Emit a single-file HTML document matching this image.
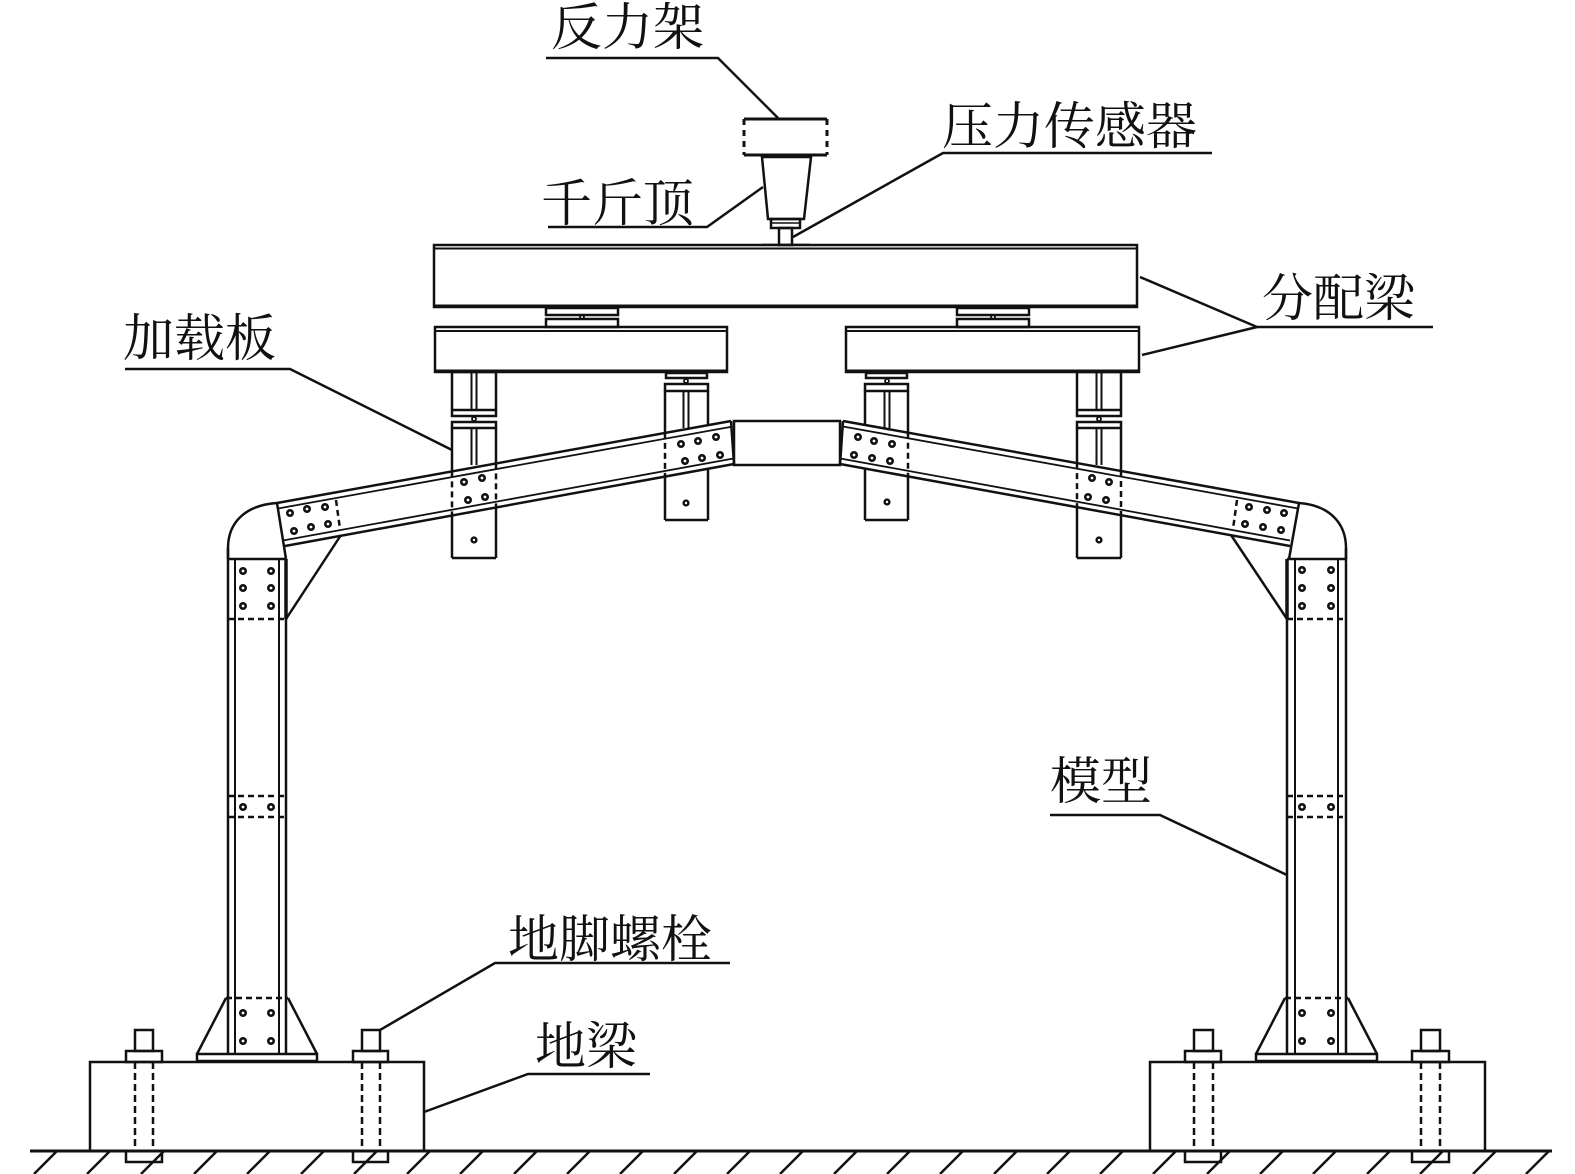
<!DOCTYPE html>
<html>
<head>
<meta charset="utf-8">
<style>
html,body{margin:0;padding:0;background:#fff;}
svg{display:block;}
text{font-family:"Liberation Serif","Noto Serif CJK SC","Noto Sans CJK SC",serif;font-size:51px;fill:#111;}
</style>
</head>
<body>
<svg width="1575" height="1174" viewBox="0 0 1575 1174" xmlns="http://www.w3.org/2000/svg">
<rect width="1575" height="1174" fill="#fff"/>

<!-- ===== Labels ===== -->
<text x="551" y="45">反力架</text>
<text x="541" y="221">千斤顶</text>
<text x="942" y="144">压力传感器</text>
<text x="1262" y="316">分配梁</text>
<text x="123" y="356">加载板</text>
<text x="1050" y="799">模型</text>
<text x="508" y="957">地脚螺栓</text>
<text x="535" y="1064">地梁</text>

<g fill="none" stroke="#111" stroke-width="2.5" stroke-linecap="butt" stroke-linejoin="miter">

<!-- leader lines -->
<polyline points="546,58 718,58 778,118"/>
<polyline points="548,227 707,227 763,187"/>
<polyline points="1212,153 943,153 793,237"/>
<polyline points="1140,277 1257,327 1142,355"/>
<line x1="1257" y1="327" x2="1433" y2="327"/>
<polyline points="125,369 290,369 452,450"/>
<polyline points="1050,815 1160,815 1287,875"/>
<polyline points="380,1030 495,963 730,963"/>
<polyline points="424,1112 528,1074 650,1074"/>

<!-- ===== Jack assembly ===== -->
<line x1="744" y1="119" x2="827" y2="119" stroke-width="3"/>
<line x1="744" y1="155" x2="827" y2="155" stroke-width="3"/>
<line x1="744" y1="119" x2="744" y2="155" stroke-width="3" stroke-dasharray="6,5"/>
<line x1="827" y1="119" x2="827" y2="155" stroke-width="3" stroke-dasharray="6,5"/>
<polygon points="762,157 811,157 804,219 768,219"/>
<rect x="771" y="219" width="29" height="9"/>
<line x1="771" y1="223" x2="800" y2="223" stroke-width="1.5"/>
<rect x="779" y="228" width="13" height="17"/>
<line x1="762" y1="244.5" x2="810" y2="244.5" stroke-width="1.5"/>

<!-- ===== Top distribution beam ===== -->
<rect x="434" y="245" width="703" height="62"/>
<line x1="434" y1="248.5" x2="1137" y2="248.5" stroke-width="2"/>
<line x1="434" y1="306" x2="1137" y2="306" stroke-width="3"/>

<!-- bearings -->
<rect x="546" y="308" width="72" height="7"/>
<rect x="546" y="319" width="72" height="8"/>
<circle cx="582" cy="317" r="2" stroke-width="1.8"/>
<rect x="957" y="308" width="72" height="7"/>
<rect x="957" y="319" width="72" height="8"/>
<circle cx="993" cy="317" r="2" stroke-width="1.8"/>

<!-- ===== Lower distribution beams ===== -->
<rect x="435" y="327" width="292" height="45"/>
<line x1="435" y1="331" x2="727" y2="331" stroke-width="2"/>
<line x1="435" y1="371" x2="727" y2="371" stroke-width="3"/>
<rect x="846" y="327" width="293" height="45"/>
<line x1="846" y1="331" x2="1139" y2="331" stroke-width="2"/>
<line x1="846" y1="371" x2="1139" y2="371" stroke-width="3"/>

<!-- ===== Hanger 1 (tall, left) ===== -->
<rect x="452" y="372" width="44" height="44"/>
<line x1="452" y1="410" x2="496" y2="410"/>
<line x1="471.5" y1="372" x2="471.5" y2="410" stroke-width="2"/>
<line x1="476.5" y1="372" x2="476.5" y2="410" stroke-width="2"/>
<circle cx="474" cy="419" r="2" stroke-width="1.8"/>
<rect x="452" y="422" width="44" height="6"/>
<line x1="471.5" y1="428" x2="471.5" y2="465" stroke-width="2"/>
<line x1="476.5" y1="428" x2="476.5" y2="465" stroke-width="2"/>
<line x1="452" y1="428" x2="452" y2="471.4"/>
<line x1="452" y1="471.4" x2="452" y2="515.5" stroke-dasharray="6,4"/>
<line x1="452" y1="515.5" x2="452" y2="558"/>
<line x1="496" y1="428" x2="496" y2="463.4"/>
<line x1="496" y1="463.4" x2="496" y2="507.5" stroke-dasharray="6,4"/>
<line x1="496" y1="507.5" x2="496" y2="558"/>
<line x1="452" y1="558" x2="496" y2="558"/>
<circle cx="474" cy="540" r="2.4" stroke-width="2.4"/>

<!-- ===== Hanger 4 (tall, right) ===== -->
<rect x="1077" y="372" width="44" height="44"/>
<line x1="1077" y1="410" x2="1121" y2="410"/>
<line x1="1096.5" y1="372" x2="1096.5" y2="410" stroke-width="2"/>
<line x1="1101.5" y1="372" x2="1101.5" y2="410" stroke-width="2"/>
<circle cx="1099" cy="419" r="2" stroke-width="1.8"/>
<rect x="1077" y="422" width="44" height="6"/>
<line x1="1096.5" y1="428" x2="1096.5" y2="465" stroke-width="2"/>
<line x1="1101.5" y1="428" x2="1101.5" y2="465" stroke-width="2"/>
<line x1="1077" y1="428" x2="1077" y2="463.1"/>
<line x1="1077" y1="463.1" x2="1077" y2="507.2" stroke-dasharray="6,4"/>
<line x1="1077" y1="507.2" x2="1077" y2="558"/>
<line x1="1121" y1="428" x2="1121" y2="471"/>
<line x1="1121" y1="471" x2="1121" y2="515.2" stroke-dasharray="6,4"/>
<line x1="1121" y1="515.2" x2="1121" y2="558"/>
<line x1="1077" y1="558" x2="1121" y2="558"/>
<circle cx="1099" cy="540" r="2.4" stroke-width="2.4"/>

<!-- ===== Hanger 2 (short) ===== -->
<rect x="666" y="373" width="41" height="5"/>
<circle cx="686" cy="381" r="2" stroke-width="1.8"/>
<rect x="665" y="384" width="43" height="7"/>
<line x1="683.5" y1="391" x2="683.5" y2="428" stroke-width="2"/>
<line x1="688.5" y1="391" x2="688.5" y2="428" stroke-width="2"/>
<line x1="665" y1="391" x2="665" y2="432.9"/>
<line x1="665" y1="432.9" x2="665" y2="476.6" stroke-dasharray="6,4"/>
<line x1="665" y1="476.6" x2="665" y2="520"/>
<line x1="708" y1="391" x2="708" y2="425.2"/>
<line x1="708" y1="468.8" x2="708" y2="520"/>
<line x1="665" y1="520" x2="708" y2="520"/>
<circle cx="686" cy="503" r="2.4" stroke-width="2.4"/>

<!-- ===== Hanger 3 (short) ===== -->
<rect x="866" y="373" width="41" height="5"/>
<circle cx="887" cy="381" r="2" stroke-width="1.8"/>
<rect x="865" y="384" width="43" height="7"/>
<line x1="884.5" y1="391" x2="884.5" y2="428" stroke-width="2"/>
<line x1="889.5" y1="391" x2="889.5" y2="428" stroke-width="2"/>
<line x1="865" y1="391" x2="865" y2="425"/>
<line x1="865" y1="468.6" x2="865" y2="520"/>
<line x1="908" y1="391" x2="908" y2="432.7"/>
<line x1="908" y1="432.7" x2="908" y2="476.4" stroke-dasharray="6,4"/>
<line x1="908" y1="476.4" x2="908" y2="520"/>
<line x1="865" y1="520" x2="908" y2="520"/>
<circle cx="887" cy="502" r="2.4" stroke-width="2.4"/>

<!-- ===== Left rafter ===== -->
<line x1="277" y1="503" x2="731" y2="421"/>
<line x1="285" y1="546" x2="734" y2="464"/>
<line x1="278" y1="508.5" x2="731.5" y2="426.7" stroke-width="1.8"/>
<line x1="283" y1="540.5" x2="733.5" y2="458.5" stroke-width="1.8"/>
<line x1="277" y1="503" x2="286" y2="559"/>
<line x1="731" y1="421" x2="734" y2="464"/>
<line x1="336" y1="500" x2="340" y2="529" stroke-dasharray="6,4"/>
<path d="M228,559 L228,548 C228,522 246,505 277,503"/>
<line x1="286" y1="619" x2="341" y2="535"/>

<!-- ===== Center box ===== -->
<rect x="734" y="421" width="106" height="44"/>

<!-- ===== Right rafter ===== -->
<line x1="843" y1="421" x2="1299" y2="503"/>
<line x1="840" y1="464" x2="1290" y2="546"/>
<line x1="843" y1="426.5" x2="1298" y2="508.5" stroke-width="1.8"/>
<line x1="840.3" y1="458.5" x2="1290" y2="540.5" stroke-width="1.8"/>
<line x1="1299" y1="503" x2="1289" y2="559"/>
<line x1="843" y1="421" x2="840" y2="465"/>
<line x1="1237" y1="500" x2="1233" y2="529" stroke-dasharray="6,4"/>
<path d="M1346,559 L1346,548 C1346,522 1328,505 1299,503"/>
<line x1="1287" y1="619" x2="1231" y2="535"/>

<!-- ===== Left column ===== -->
<line x1="228" y1="548" x2="228" y2="1054"/>
<line x1="286" y1="559" x2="286" y2="1054"/>
<line x1="235" y1="559" x2="235" y2="1054" stroke-width="2"/>
<line x1="279" y1="559" x2="279" y2="1054" stroke-width="2"/>
<line x1="228" y1="559" x2="286" y2="559"/>
<line x1="286" y1="559" x2="286" y2="619" stroke-width="3.5"/>
<line x1="228" y1="619" x2="286" y2="619" stroke-dasharray="6,4"/>
<line x1="228" y1="796" x2="286" y2="796" stroke-dasharray="6,4"/>
<line x1="228" y1="817" x2="286" y2="817" stroke-dasharray="6,4"/>
<line x1="226" y1="998" x2="288" y2="998" stroke-dasharray="6,4"/>
<line x1="226" y1="998" x2="197" y2="1054"/>
<line x1="288" y1="998" x2="317" y2="1054"/>
<rect x="197" y="1054" width="120" height="7"/>

<!-- ===== Right column ===== -->
<line x1="1346" y1="548" x2="1346" y2="1054"/>
<line x1="1287" y1="559" x2="1287" y2="1054"/>
<line x1="1295" y1="559" x2="1295" y2="1054" stroke-width="2"/>
<line x1="1338" y1="559" x2="1338" y2="1054" stroke-width="2"/>
<line x1="1287" y1="559" x2="1346" y2="559"/>
<line x1="1287" y1="559" x2="1287" y2="619" stroke-width="3.5"/>
<line x1="1287" y1="619" x2="1346" y2="619" stroke-dasharray="6,4"/>
<line x1="1287" y1="796" x2="1346" y2="796" stroke-dasharray="6,4"/>
<line x1="1287" y1="817" x2="1346" y2="817" stroke-dasharray="6,4"/>
<line x1="1285" y1="998" x2="1348" y2="998" stroke-dasharray="6,4"/>
<line x1="1285" y1="998" x2="1256" y2="1054"/>
<line x1="1348" y1="998" x2="1377" y2="1054"/>
<rect x="1256" y="1054" width="121" height="7"/>

<!-- ===== Ground beams ===== -->
<polyline points="90,1151 90,1062 424,1062 424,1151"/>
<polyline points="1150,1151 1150,1062 1485,1062 1485,1151"/>

<!-- anchor bolts -->
<rect x="135" y="1030" width="18" height="21"/>
<rect x="126" y="1051" width="36" height="11"/>
<line x1="135" y1="1062" x2="135" y2="1151" stroke-dasharray="7,4"/>
<line x1="153" y1="1062" x2="153" y2="1151" stroke-dasharray="7,4"/>
<polyline points="126,1151 126,1162 162,1162 162,1151"/>

<rect x="362" y="1030" width="18" height="21"/>
<rect x="353" y="1051" width="35" height="11"/>
<line x1="362" y1="1062" x2="362" y2="1151" stroke-dasharray="7,4"/>
<line x1="380" y1="1062" x2="380" y2="1151" stroke-dasharray="7,4"/>
<polyline points="353,1151 353,1162 388,1162 388,1151"/>

<rect x="1194" y="1030" width="19" height="21"/>
<rect x="1185" y="1051" width="36" height="11"/>
<line x1="1194" y1="1062" x2="1194" y2="1151" stroke-dasharray="7,4"/>
<line x1="1213" y1="1062" x2="1213" y2="1151" stroke-dasharray="7,4"/>
<polyline points="1185,1151 1185,1162 1221,1162 1221,1151"/>

<rect x="1421" y="1030" width="19" height="21"/>
<rect x="1412" y="1051" width="37" height="11"/>
<line x1="1421" y1="1062" x2="1421" y2="1151" stroke-dasharray="7,4"/>
<line x1="1440" y1="1062" x2="1440" y2="1151" stroke-dasharray="7,4"/>
<polyline points="1412,1151 1412,1162 1449,1162 1449,1151"/>

<!-- ground line -->
<line x1="30" y1="1151" x2="1552" y2="1151" stroke-width="3"/>
<path d="M34,1174 L57,1151 M87,1174 L110,1151 M141,1174 L164,1151 M194,1174 L217,1151 M247,1174 L270,1151 M301,1174 L324,1151 M354,1174 L377,1151 M407,1174 L430,1151 M460,1174 L483,1151 M514,1174 L537,1151 M567,1174 L590,1151 M620,1174 L643,1151 M674,1174 L697,1151 M727,1174 L750,1151 M780,1174 L803,1151 M834,1174 L857,1151 M887,1174 L910,1151 M940,1174 L963,1151 M994,1174 L1017,1151 M1047,1174 L1070,1151 M1100,1174 L1123,1151 M1153,1174 L1176,1151 M1207,1174 L1230,1151 M1260,1174 L1283,1151 M1313,1174 L1336,1151 M1367,1174 L1390,1151 M1420,1174 L1443,1151 M1473,1174 L1496,1151 M1526,1174 L1549,1151"/>
</g>

<!-- ===== Bolts ===== -->
<g fill="none" stroke="#111" stroke-width="2.6">
<circle cx="243" cy="571" r="2.7"/><circle cx="271" cy="571" r="2.7"/>
<circle cx="243" cy="588" r="2.7"/><circle cx="271" cy="588" r="2.7"/>
<circle cx="243" cy="606" r="2.7"/><circle cx="271" cy="606" r="2.7"/>
<circle cx="243" cy="807" r="2.7"/><circle cx="271" cy="807" r="2.7"/>
<circle cx="243" cy="1013" r="2.7"/><circle cx="271" cy="1013" r="2.7"/>
<circle cx="243" cy="1041" r="2.7"/><circle cx="271" cy="1041" r="2.7"/>

<circle cx="1302" cy="570" r="2.7"/><circle cx="1331" cy="570" r="2.7"/>
<circle cx="1302" cy="588" r="2.7"/><circle cx="1331" cy="588" r="2.7"/>
<circle cx="1302" cy="606" r="2.7"/><circle cx="1331" cy="606" r="2.7"/>
<circle cx="1302" cy="807" r="2.7"/><circle cx="1331" cy="807" r="2.7"/>
<circle cx="1302" cy="1013" r="2.7"/><circle cx="1331" cy="1013" r="2.7"/>
<circle cx="1302" cy="1041" r="2.7"/><circle cx="1331" cy="1041" r="2.7"/>

<circle cx="290" cy="513" r="2.7"/><circle cx="307" cy="509" r="2.7"/><circle cx="325" cy="507" r="2.7"/>
<circle cx="294" cy="531" r="2.7"/><circle cx="311" cy="527" r="2.7"/><circle cx="328" cy="524" r="2.7"/>

<circle cx="464" cy="482" r="2.7"/><circle cx="482" cy="478" r="2.7"/>
<circle cx="468" cy="500" r="2.7"/><circle cx="485" cy="497" r="2.7"/>

<circle cx="681" cy="444" r="2.7"/><circle cx="698" cy="441" r="2.7"/><circle cx="716" cy="437" r="2.7"/>
<circle cx="685" cy="461" r="2.7"/><circle cx="702" cy="458" r="2.7"/><circle cx="720" cy="455" r="2.7"/>

<circle cx="858" cy="437" r="2.7"/><circle cx="874" cy="441" r="2.7"/><circle cx="892" cy="444" r="2.7"/>
<circle cx="854" cy="455" r="2.7"/><circle cx="872" cy="458" r="2.7"/><circle cx="890" cy="461" r="2.7"/>

<circle cx="1092" cy="478" r="2.7"/><circle cx="1109" cy="482" r="2.7"/>
<circle cx="1088" cy="497" r="2.7"/><circle cx="1106" cy="500" r="2.7"/>

<circle cx="1249" cy="507" r="2.7"/><circle cx="1267" cy="510" r="2.7"/><circle cx="1284" cy="513" r="2.7"/>
<circle cx="1245" cy="524" r="2.7"/><circle cx="1263" cy="527" r="2.7"/><circle cx="1281" cy="530" r="2.7"/>
</g>
</svg>
</body>
</html>
